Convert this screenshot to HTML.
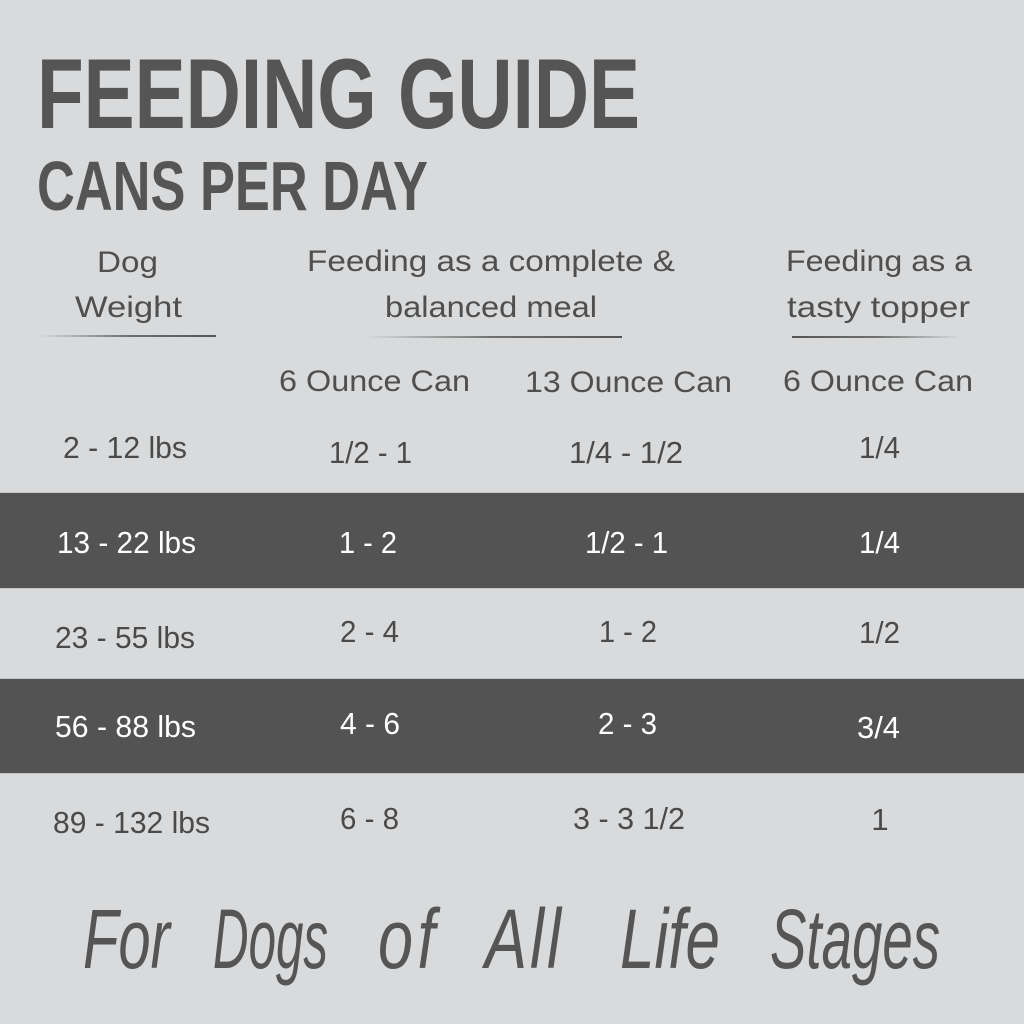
<!DOCTYPE html>
<html>
<head>
<meta charset="utf-8">
<style>
  html,body{margin:0;padding:0;background:#d9dadb;}
  svg{display:block;}
  .h{font-family:"Liberation Sans",sans-serif;font-size:30px;fill:#4f4f4f;}
  .r{font-family:"Liberation Sans",sans-serif;font-size:31px;fill:#4a4a4a;}
  .w{fill:#ffffff;}
  .t{font-family:"Liberation Sans",sans-serif;font-weight:bold;fill:#555555;}
  .s{font-family:"Liberation Sans",sans-serif;font-style:italic;font-size:84px;fill:#555555;}
</style>
</head>
<body>
<svg width="1024" height="1024" viewBox="0 0 1024 1024" xmlns="http://www.w3.org/2000/svg">
  <defs>
    <linearGradient id="gl" x1="0" x2="1" y1="0" y2="0">
      <stop offset="0" stop-color="#555" stop-opacity="0"/>
      <stop offset="0.5" stop-color="#555" stop-opacity="0.8"/>
      <stop offset="1" stop-color="#555" stop-opacity="1"/>
    </linearGradient>
    <linearGradient id="gr" x1="0" x2="1" y1="0" y2="0">
      <stop offset="0" stop-color="#555" stop-opacity="1"/>
      <stop offset="0.5" stop-color="#555" stop-opacity="0.8"/>
      <stop offset="1" stop-color="#555" stop-opacity="0"/>
    </linearGradient>
  </defs>
  <rect x="0" y="0" width="1024" height="1024" fill="#d9dadb"/>

  <!-- Title -->
  <text class="t" x="37" y="128" font-size="99" textLength="603" lengthAdjust="spacingAndGlyphs">FEEDING GUIDE</text>
  <text class="t" x="37" y="210" font-size="70" textLength="391" lengthAdjust="spacingAndGlyphs">CANS PER DAY</text>

  <!-- Header -->
  <text class="h" x="97" y="272" textLength="61" lengthAdjust="spacingAndGlyphs">Dog</text>
  <text class="h" x="75" y="317" textLength="107" lengthAdjust="spacingAndGlyphs">Weight</text>
  <rect x="40" y="335" width="176" height="2" fill="url(#gl)"/>

  <text class="h" x="307" y="271" textLength="368" lengthAdjust="spacingAndGlyphs">Feeding as a complete &amp;</text>
  <text class="h" x="385" y="317" textLength="212" lengthAdjust="spacingAndGlyphs">balanced meal</text>
  <rect x="365" y="336" width="257" height="2" fill="url(#gl)"/>

  <text class="h" x="786" y="271" textLength="186" lengthAdjust="spacingAndGlyphs">Feeding as a</text>
  <text class="h" x="787" y="317" textLength="183" lengthAdjust="spacingAndGlyphs">tasty topper</text>
  <rect x="792" y="336" width="168" height="2" fill="url(#gr)"/>

  <text class="h" x="279" y="391" textLength="191" lengthAdjust="spacingAndGlyphs">6 Ounce Can</text>
  <text class="h" x="525" y="392" textLength="207" lengthAdjust="spacingAndGlyphs">13 Ounce Can</text>
  <text class="h" x="783" y="391" textLength="190" lengthAdjust="spacingAndGlyphs">6 Ounce Can</text>

  <!-- Bands -->
  <rect x="0" y="492" width="1024" height="1" fill="#c4c5c6"/>
  <rect x="0" y="493" width="1024" height="95" fill="#535353"/>
  <rect x="0" y="588" width="1024" height="1" fill="#c4c5c6"/>
  <rect x="0" y="678" width="1024" height="1" fill="#c4c5c6"/>
  <rect x="0" y="679" width="1024" height="94" fill="#535353"/>
  <rect x="0" y="773" width="1024" height="1" fill="#c4c5c6"/>

  <!-- Row 1 -->
  <text class="r" x="63" y="458" textLength="124" lengthAdjust="spacingAndGlyphs">2 - 12 lbs</text>
  <text class="r" x="329" y="463" textLength="83" lengthAdjust="spacingAndGlyphs">1/2 - 1</text>
  <text class="r" x="569" y="463" textLength="114" lengthAdjust="spacingAndGlyphs">1/4 - 1/2</text>
  <text class="r" x="859" y="458" textLength="41" lengthAdjust="spacingAndGlyphs">1/4</text>

  <!-- Row 2 -->
  <text class="r w" x="57" y="553" textLength="139" lengthAdjust="spacingAndGlyphs">13 - 22 lbs</text>
  <text class="r w" x="339" y="553" textLength="58" lengthAdjust="spacingAndGlyphs">1 - 2</text>
  <text class="r w" x="585" y="553" textLength="83" lengthAdjust="spacingAndGlyphs">1/2 - 1</text>
  <text class="r w" x="859" y="553" textLength="41" lengthAdjust="spacingAndGlyphs">1/4</text>

  <!-- Row 3 -->
  <text class="r" x="55" y="648" textLength="140" lengthAdjust="spacingAndGlyphs">23 - 55 lbs</text>
  <text class="r" x="340" y="642" textLength="59" lengthAdjust="spacingAndGlyphs">2 - 4</text>
  <text class="r" x="599" y="642" textLength="58" lengthAdjust="spacingAndGlyphs">1 - 2</text>
  <text class="r" x="859" y="643" textLength="41" lengthAdjust="spacingAndGlyphs">1/2</text>

  <!-- Row 4 -->
  <text class="r w" x="55" y="737" textLength="141" lengthAdjust="spacingAndGlyphs">56 - 88 lbs</text>
  <text class="r w" x="340" y="734" textLength="60" lengthAdjust="spacingAndGlyphs">4 - 6</text>
  <text class="r w" x="598" y="734" textLength="59" lengthAdjust="spacingAndGlyphs">2 - 3</text>
  <text class="r w" x="857" y="738" textLength="43" lengthAdjust="spacingAndGlyphs">3/4</text>

  <!-- Row 5 -->
  <text class="r" x="53" y="833" textLength="157" lengthAdjust="spacingAndGlyphs">89 - 132 lbs</text>
  <text class="r" x="340" y="829" textLength="59" lengthAdjust="spacingAndGlyphs">6 - 8</text>
  <text class="r" x="573" y="829" textLength="112" lengthAdjust="spacingAndGlyphs">3 - 3 1/2</text>
  <text class="r" x="880" y="830" text-anchor="middle">1</text>

  <!-- Script tagline -->
  <text class="s" x="83" y="968" textLength="87" lengthAdjust="spacingAndGlyphs">For</text>
  <text class="s" x="213" y="968" textLength="115" lengthAdjust="spacingAndGlyphs">Dogs</text>
  <text class="s" transform="translate(378,968) scale(0.75,1)" x="0" y="0" letter-spacing="6">of</text>
  <text class="s" transform="translate(485,968) scale(0.75,1)" x="0" y="0" letter-spacing="4">All</text>
  <text class="s" x="620" y="968" textLength="100" lengthAdjust="spacingAndGlyphs">Life</text>
  <text class="s" x="770" y="968" textLength="170" lengthAdjust="spacingAndGlyphs">Stages</text>
</svg>
</body>
</html>
